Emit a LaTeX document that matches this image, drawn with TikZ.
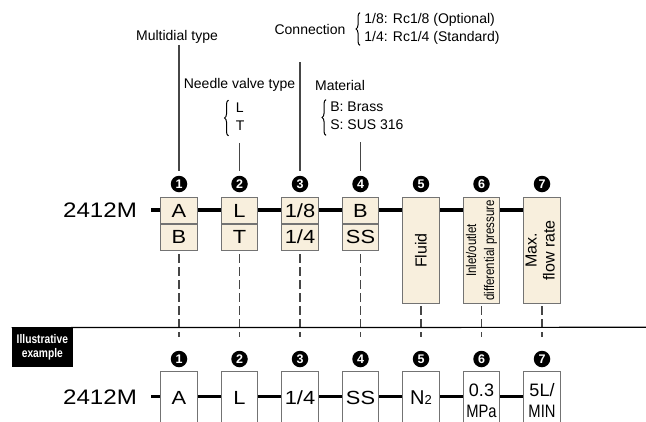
\documentclass[tikz,border=0pt]{standalone}
\usepackage{fontspec}
\setmainfont{Liberation Sans}
\newfontfamily\narrowfont[FakeStretch=0.82]{Liberation Sans}
\newfontfamily\widefont[FakeStretch=1.15]{Liberation Sans}
\usepackage{graphicx}
\usetikzlibrary{positioning,backgrounds,decorations.pathreplacing}
\definecolor{boxfill}{RGB}{248,239,221}
\definecolor{boxedge}{RGB}{115,115,115}
\definecolor{leadgray}{RGB}{70,70,70}
\tikzset{every picture/.style={line width=0.75pt}}

\begin{document}
\begin{tikzpicture}[x=1pt,y=-1pt,
    lbl/.style={font=\fontsize{14}{18}\selectfont,inner sep=1pt},
    opts/.style={lbl,anchor=west,inner sep=0pt},
    curly/.style={decorate,decoration={brace,amplitude=4pt},line width=1pt},
    num/.style={circle,fill=black,text=white,inner sep=0pt,minimum size=16.5pt,font=\fontsize{12.5}{13}\selectfont\bfseries},
    cell/.style={draw=boxedge,line width=1.1pt,fill=boxfill,minimum width=36.6pt,minimum height=26.3pt,inner sep=0pt,outer sep=0pt,font=\widefont\fontsize{19}{19}\selectfont},
    tall/.style={cell,minimum height=105.6pt,font=\fontsize{16}{18}\selectfont},
    excell/.style={cell,fill=white,anchor=north,minimum height=52pt,align=center},
    bus/.style={line width=3.5pt},
    lead/.style={draw=leadgray,line width=1.2pt},
    guide/.style={draw=leadgray,line width=1.2pt,dash pattern=on 9pt off 4pt}]

    % frame of the picture
    \useasboundingbox (0,0) rectangle (646,421);
    \clip (0,0) rectangle (646,421);

    % item labels at the top
    \node[lbl] (mult) at (177,37) {Multidial type};
    \node[lbl] (conn) at (310,29) {Connection};
    \node[opts] (connopt) at (364,29) {\begin{tabular}{@{}l@{}}1/8: Rc1/8 (Optional)\\1/4: Rc1/4 (Standard)\end{tabular}};
    \node[lbl] (needle) at (239.5,85) {Needle valve type};
    \node[opts] (ltopt) at (235.5,117.5) {\begin{tabular}{@{}l@{}}L\\T\end{tabular}};
    \node[lbl] (mat) at (340,85) {Material};
    \node[opts] (matopt) at (330,117) {\begin{tabular}{@{}l@{}}B: Brass\\S: SUS 316\end{tabular}};
    \coordinate (c3) at (300,62);

    % braces
    \draw[curly] ([xshift=-4pt,yshift=2pt]connopt.south west) -- ([xshift=-4pt,yshift=-2pt]connopt.north west);
    \draw[curly] ([xshift=-7pt,yshift=0pt]ltopt.south west) -- ([xshift=-7pt,yshift=-1pt]ltopt.north west);
    \draw[curly] ([xshift=-4pt,yshift=0pt]matopt.south west) -- ([xshift=-4pt,yshift=-1pt]matopt.north west);

    % numbered circles
    \foreach \i in {1,...,7} {
        \node[num] (n\i) at ({179+60.5*(\i-1)},184) {\i};
        \node[num] (m\i) at ({179+60.5*(\i-1)},359) {\i};
    }

    % model code, upper row
    \node[font=\widefont\fontsize{21}{21}\selectfont] (model) at (100,210) {2412M};
    \node[cell] (a1) at (179,210.85) {A};
    \node[cell,below=0pt of a1] (b1) {B};
    \node[cell] (a2) at (239.5,210.85) {L};
    \node[cell,below=0pt of a2] (b2) {T};
    \node[cell] (a3) at (300,210.85) {1/8};
    \node[cell,below=0pt of a3] (b3) {1/4};
    \node[cell] (a4) at (360.5,210.85) {B};
    \node[cell,below=0pt of a4] (b4) {SS};
    \node[tall] (t5) at (421,250.5) {\rotatebox{90}{Fluid}};
    \node[tall] (t6) at (481.5,250.5) {\rotatebox{90}{\narrowfont\fontsize{14}{18}\selectfont\begin{tabular}{@{}c@{}}Inlet/outlet\\differential pressure\end{tabular}}};
    \node[tall] (t7) at (542,250.5) {\rotatebox{90}{\begin{tabular}{@{}c@{}}Max.\\flow rate\end{tabular}}};
    \coordinate (s1) at (151,210);

    % illustrative example
    \node[fill=black,text=white,minimum width=60.7pt,minimum height=38.7pt,inner sep=0pt,align=center,
          font=\narrowfont\bfseries\fontsize{12.5}{14}\selectfont] (illus) at (42.35,347.35) {Illustrative\\example};
    \coordinate (rr) at (646,327.3);
    \node[font=\widefont\fontsize{21}{21}\selectfont] (model2) at (100,397) {2412M};
    \node[excell] (e1) at (179,371.7) {A};
    \node[excell] (e2) at (239.5,371.7) {L};
    \node[excell] (e3) at (300,371.7) {1/4};
    \node[excell] (e4) at (360.5,371.7) {SS};
    \node[excell,font=\fontsize{20}{20}\selectfont] (e5) at (421,371.7) {N{\fontsize{13}{13}\selectfont 2}};
    \node[excell,minimum height=58pt,font=\fontsize{18}{21.5}\selectfont] (e6) at (481.5,371.7) {0.3\\{\narrowfont MPa}};
    \node[excell,minimum height=58pt,font=\fontsize{18}{21.5}\selectfont] (e7) at (542,371.7) {5L/\\{\narrowfont MIN}};
    \coordinate (s2) at (151,396.7);

    % main lines behind the boxes
    \begin{scope}[on background layer]
        \draw[bus] (s1) -- (s1 -| t7.west);
        \draw[bus] (s2) -- (s2 -| e7.west);
    \end{scope}

    % leaders
    \draw[lead,shorten >=4pt] (mult.south -| n1) -- (n1.north);
    \draw[lead,shorten >=4pt,shorten <=7pt] (ltopt.south -| n2) -- (n2.north);
    \draw[lead,shorten >=4pt] (c3) -- (n3.north);
    \draw[lead,shorten >=4pt,shorten <=7pt] (matopt.south -| n4) -- (n4.north);
    \draw[guide,shorten <=4pt,shorten >=13pt] (b1.south) -- (m1.north);
    \draw[guide,shorten <=4pt,shorten >=13pt] (b2.south) -- (m2.north);
    \draw[guide,shorten <=4pt,shorten >=13pt] (b3.south) -- (m3.north);
    \draw[guide,shorten <=4pt,shorten >=13pt] (b4.south) -- (m4.north);
    \draw[guide,shorten <=3pt,shorten >=13pt] (t5.south) -- (m5.north);
    \draw[guide,shorten <=3pt,shorten >=13pt] (t6.south) -- (m6.north);
    \draw[guide,shorten <=3pt,shorten >=13pt] (t7.south) -- (m7.north);

    % separator
    \draw[line width=1.2pt] (illus.north west) -- (rr);
\end{tikzpicture}
\end{document}
